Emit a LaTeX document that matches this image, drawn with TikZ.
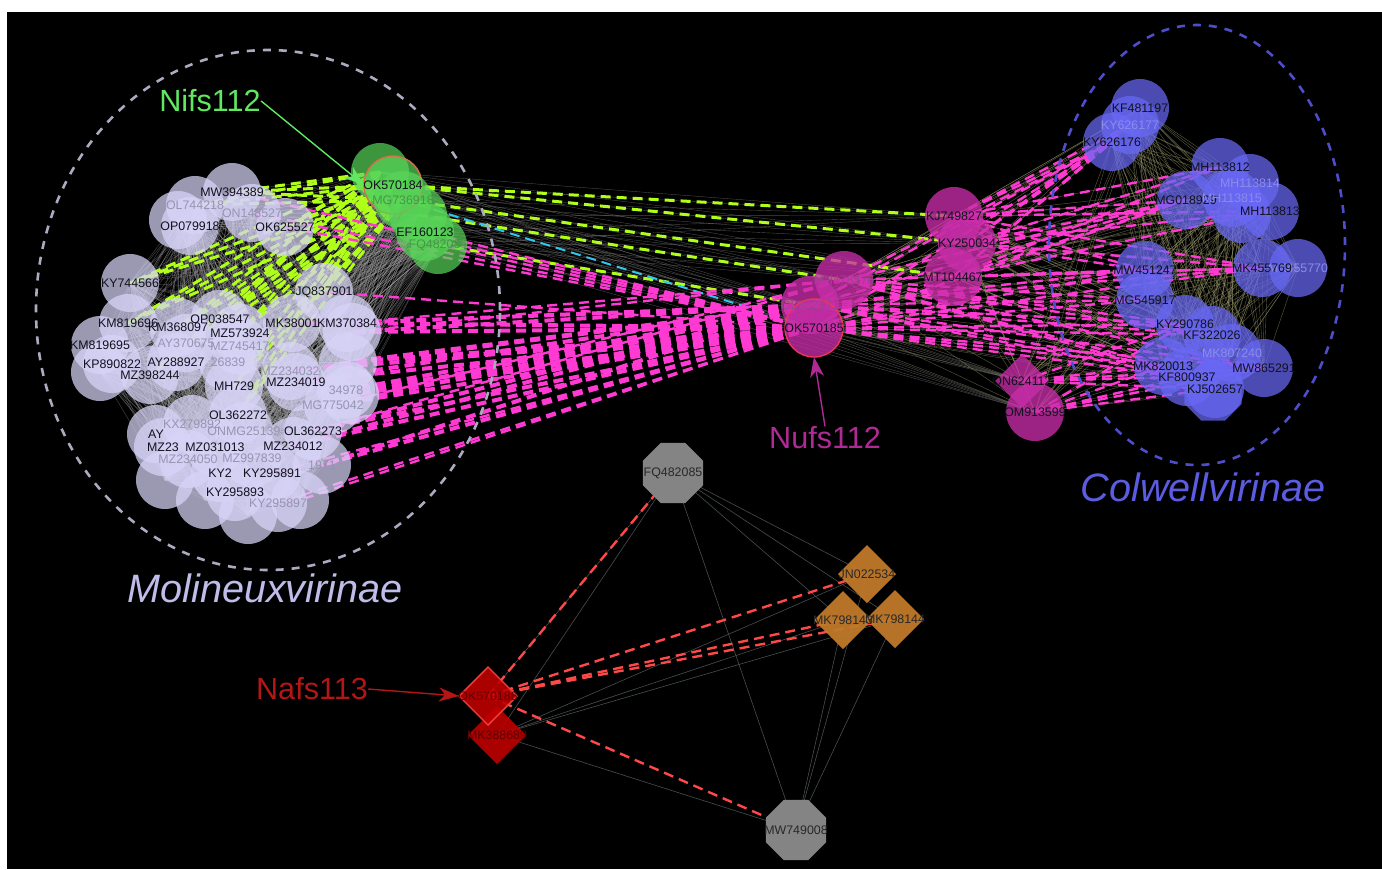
\documentclass[tikz,border=0pt]{standalone}
\usepackage{fontspec}
\setmainfont{Liberation Sans}
\usetikzlibrary{shapes.geometric,arrows.meta}
\pgfdeclarelayer{back}
\pgfdeclarelayer{edges}
\pgfdeclarelayer{labels}
\pgfsetlayers{back,edges,main,labels}

\definecolor{molfill}{RGB}{216,212,248}
\definecolor{molring}{RGB}{170,170,192}
\definecolor{moltext}{RGB}{192,188,234}
\definecolor{grnfill}{RGB}{88,214,88}
\definecolor{grntext}{RGB}{96,232,96}
\definecolor{hubor}{RGB}{214,112,72}
\definecolor{magfill}{RGB}{200,45,168}
\definecolor{magtext}{RGB}{176,42,150}
\definecolor{hubred}{RGB}{236,52,92}
\definecolor{bluefill}{RGB}{104,104,246}
\definecolor{colring}{RGB}{78,78,205}
\definecolor{bluetext}{RGB}{92,92,226}
\definecolor{ygdash}{RGB}{176,255,24}
\definecolor{pkdash}{RGB}{255,58,210}
\definecolor{cydash}{RGB}{48,200,236}
\definecolor{reddash}{RGB}{255,72,72}
\definecolor{meshgray}{RGB}{160,160,160}
\definecolor{meshyel}{RGB}{150,150,105}
\definecolor{meshdark}{RGB}{72,78,78}
\definecolor{octgray}{RGB}{132,132,132}
\definecolor{ambfill}{RGB}{192,122,42}
\definecolor{redfill}{RGB}{190,0,0}
\definecolor{redline}{RGB}{240,64,64}
\definecolor{nodetext}{RGB}{18,18,30}
\definecolor{fadetext}{RGB}{150,148,178}
\definecolor{fadegrn}{RGB}{72,150,72}
\definecolor{fademag}{RGB}{150,70,140}
\definecolor{fadeblu}{RGB}{140,140,235}
\definecolor{nafsred}{RGB}{178,22,22}
\definecolor{otext}{RGB}{40,40,40}
\definecolor{rtext}{RGB}{95,0,0}

\tikzset{
  vbase/.style={inner sep=0pt, outer sep=0pt, minimum size=29pt, draw=none},
  mol/.style={vbase, circle, fill=molfill, fill opacity=0.72},
  grn/.style={vbase, circle, fill=grnfill, fill opacity=0.7},
  mag/.style={vbase, circle, fill=magfill, fill opacity=0.78},
  magdia/.style={vbase, diamond, minimum size=27pt, fill=magfill, fill opacity=0.78},
  blu/.style={vbase, circle, fill=bluefill, fill opacity=0.72},
  bluoct/.style={vbase, regular polygon, regular polygon sides=8, minimum size=31pt, fill=bluefill, fill opacity=0.72},
  oct/.style={vbase, regular polygon, regular polygon sides=8, minimum size=32.5pt, fill=octgray},
  amb/.style={vbase, diamond, fill=ambfill, fill opacity=0.95},
  reddia/.style={vbase, diamond, fill=redfill, fill opacity=0.9},
  hub/.style={draw=#1, line width=0.7pt, draw opacity=1},
  tag/.style={inner sep=0pt, font=\fontsize{6.2}{6.2}\selectfont, text=nodetext},
  ftag/.style={tag, text=fadetext},
  gftag/.style={tag, text=fadegrn},
  mftag/.style={tag, text=fademag},
  bftag/.style={tag, text=fadeblu},
  otag/.style={tag, text=otext},
  rtag/.style={tag, text=rtext},
  ygd/.style={draw=ygdash, line width=1.5pt, dash pattern=on 5pt off 3pt},
  pkd/.style={draw=pkdash, line width=1.2pt, dash pattern=on 5pt off 3pt},
  pkw/.style={pkd, line width=2pt},
  cyd/.style={draw=cydash, line width=1pt, dash pattern=on 5pt off 3pt},
  rdd/.style={draw=reddash, line width=1.2pt, dash pattern=on 5pt off 3pt},
  mesh/.style={draw=meshgray, line width=0.2pt, draw opacity=0.45},
  ymesh/.style={draw=meshyel, line width=0.2pt, draw opacity=0.6},
  dmesh/.style={draw=meshdark, line width=0.3pt},
  ring/.style={line width=1.3pt, dash pattern=on 4pt off 4pt},
  big/.style={inner sep=0pt, font=\fontsize{15.3}{16}\selectfont},
  fam/.style={inner sep=0pt, font=\itshape\fontsize{19.8}{20}\selectfont},
  pointer/.style={line width=0.7pt, -{Stealth[length=10pt,width=7pt,inset=3pt]}},
}

% vertex: style, name, position, label style, label text
\newcommand\vtx[5]{\node[#1] (#2) at (#3) {};%
  \begin{pgfonlayer}{labels}\node[#4] (#2t) at (#3) {#5};\end{pgfonlayer}}

\begin{document}
\begin{tikzpicture}[x=0.5pt,y=-0.5pt]
\useasboundingbox (0,0) rectangle (1382,869);
\begin{pgfonlayer}{back}
  \fill[white] (0,0) rectangle (1382,869);
  \fill[black] (7,12) rectangle (1382,869);
\end{pgfonlayer}

% subfamily rings
\draw[ring, draw=molring] (268,310) ellipse [x radius=116pt, y radius=130pt];
\draw[ring, draw=colring] (1197,245) ellipse [x radius=74pt, y radius=110pt];

% ---- Molineuxvirinae ----
\vtx{mol}{L1}{178,220}{tag}{}
\vtx{mol}{L2}{195,205}{ftag}{OL744218}
\vtx{mol}{L3}{232,192}{tag}{MW394389}
\vtx{mol}{L4}{190,226}{tag}{OP079918}
\vtx{mol}{L5}{252,213}{ftag}{ON148527}
\vtx{mol}{L6}{285,227}{tag}{OK625527}
\vtx{mol}{L7}{130,283}{tag}{KY744566}
\vtx{mol}{L8}{324,292}{tag}{JQ837901}
\vtx{mol}{L9}{128,323}{tag}{KM819696}
\vtx{mol}{L10}{100,345}{tag}{KM819695}
\vtx{mol}{L11}{112,364}{tag}{KP890822}
\vtx{mol}{L12}{178,327}{tag}{KM368097}
\vtx{mol}{L13}{220,319}{tag}{OP038547}
\vtx{mol}{L14}{240,333}{tag}{MZ573924}
\vtx{mol}{L15}{292,323}{tag}{MK38001}
\vtx{mol}{L16}{347,323}{tag}{KM370384}
\vtx{mol}{L17}{186,343}{ftag}{AY370675}
\vtx{mol}{L18}{240,346}{ftag}{MZ745417}
\vtx{mol}{L19}{176,362}{tag}{AY288927}
\vtx{mol}{L20}{228,362}{ftag}{26839}
\vtx{mol}{L21}{150,375}{tag}{MZ398244}
\vtx{mol}{L22}{290,371}{ftag}{MZ234032}
\vtx{mol}{L23}{234,386}{tag}{MH729}
\vtx{mol}{L24}{296,382}{tag}{MZ234019}
\vtx{mol}{L25}{346,390}{ftag}{34978}
\vtx{mol}{L26}{333,405}{ftag}{MG775042}
\vtx{mol}{L27}{238,415}{tag}{OL362272}
\vtx{mol}{L28}{192,424}{ftag}{KX279892}
\vtx{mol}{L29}{156,434}{tag}{AY}
\vtx{mol}{L30}{244,431}{ftag}{ONMG25139}
\vtx{mol}{L31}{313,431}{tag}{OL362273}
\vtx{mol}{L32}{163,447}{tag}{MZ23}
\vtx{mol}{L33}{215,447}{tag}{MZ031013}
\vtx{mol}{L34}{293,446}{tag}{MZ234012}
\vtx{mol}{L35}{188,459}{ftag}{MZ234050}
\vtx{mol}{L36}{252,458}{ftag}{MZ997839}
\vtx{mol}{L37}{220,473}{tag}{KY2}
\vtx{mol}{L38}{272,473}{tag}{KY295891}
\vtx{mol}{L39}{322,465}{ftag}{1971}
\vtx{mol}{L40}{235,492}{tag}{KY295893}
\vtx{mol}{L41}{278,503}{ftag}{KY295897}
\vtx{mol}{L42}{352,332}{tag}{}
\vtx{mol}{L43}{348,362}{tag}{}
\vtx{mol}{L44}{350,395}{tag}{}
\vtx{mol}{L45}{165,480}{tag}{}
\vtx{mol}{L46}{248,515}{tag}{}
\vtx{mol}{L47}{300,500}{tag}{}
\vtx{mol}{L48}{205,500}{tag}{}
\vtx{mol}{L49}{100,372}{tag}{}

% ---- Nifs112 group ----
\vtx{grn}{G1}{380,172}{tag}{}
\vtx{grn}{G4}{418,215}{tag}{}
\vtx{grn}{G5}{425,232}{tag}{EF160123}
\vtx{grn}{G6}{438,245}{gftag}{FQ482084}
\vtx{grn,hub=hubor}{G2}{393,185}{tag}{OK570184}
\vtx{grn}{G3}{403,200}{gftag}{MG736918}

% ---- Nufs112 group ----
\vtx{mag}{P3}{844,280}{mftag}{MN478376}
\vtx{mag}{P2}{810,305}{mftag}{OL362271}
\vtx{mag,hub=hubred}{P1}{814,328}{tag}{OK570185}
\vtx{mag}{P4}{954,216}{tag}{KJ749827}
\vtx{mag}{P5}{967,243}{tag}{KY250034}
\vtx{mag}{P6}{953,277}{tag}{MT104467}
\vtx{magdia}{P7}{1022,381}{tag}{ON624112}
\vtx{mag}{P8}{1035,412}{tag}{OM913599}

% ---- Colwellvirinae ----
\vtx{blu}{B1}{1140,108}{tag}{KF481197}
\vtx{blu}{B2}{1130,125}{bftag}{KY626177}
\vtx{blu}{B3}{1112,142}{tag}{KY626176}
\vtx{blu}{B4}{1220,167}{tag}{MH113812}
\vtx{blu}{B5}{1250,183}{bftag}{MH113814}
\vtx{blu}{B6}{1186,200}{tag}{MG018929}
\vtx{blu}{B7}{1232,198}{bftag}{MH113815}
\vtx{blu}{B8}{1242,214}{tag}{}
\vtx{blu}{B9}{1270,211}{tag}{MH113813}
\vtx{blu}{B10}{1145,270}{tag}{MW451247}
\vtx{blu}{B12}{1298,268}{bftag}{MK455770}
\vtx{blu}{B11}{1262,268}{tag}{MK455769}
\vtx{blu}{B13}{1145,300}{tag}{MG545917}
\vtx{blu}{B14}{1185,324}{tag}{KY290786}
\vtx{blu}{B15}{1212,335}{tag}{KF322026}
\vtx{blu}{B16}{1232,353}{bftag}{MK807240}
\vtx{blu}{B17}{1163,366}{tag}{MK820013}
\vtx{bluoct}{B21}{1213,392}{tag}{}
\vtx{blu}{B18}{1187,377}{tag}{KF800937}
\vtx{blu}{B19}{1215,389}{tag}{KJ502657}
\vtx{blu}{B20}{1264,368}{tag}{MW865291}

% ---- Nafs113 group ----
\vtx{oct}{Q1}{673,473}{otag}{FQ482085}
\vtx{amb}{Q2}{867,574}{otag}{JN022534}
\vtx{amb}{Q3}{843,620}{otag}{MK798143}
\vtx{amb}{Q4}{895,619}{otag}{MK798144}
\vtx{reddia}{Q6}{497,735}{rtag}{MK388689}
\vtx{reddia,hub=redline}{Q5}{488,696}{rtag}{OK570186}
\vtx{oct}{Q7}{796,830}{otag}{MW749008}

% ---- connectors ----
\begin{pgfonlayer}{edges}
  % background similarity mesh
  \foreach \i in {1,...,49} {\foreach \j in {\i,...,49} {\draw[mesh] (L\i.center) -- (L\j.center);}}
  \foreach \i in {1,...,6} {\foreach \j in {1,...,49} {\draw[mesh] (G\i.center) -- (L\j.center);}}
  \foreach \i in {1,...,6} {\foreach \j in {1,...,8} {\draw[mesh] (G\i.center) -- (P\j.center);}}
  \foreach \i in {1,...,8} {\foreach \j in {1,...,21} {\draw[ymesh] (P\i.center) -- (B\j.center);}}
  \foreach \i in {1,...,21} {\foreach \j in {\i,...,21} {\draw[ymesh] (B\i.center) -- (B\j.center);}}
  \foreach \i in {1,...,8} {\foreach \j in {\i,...,8} {\draw[ymesh] (P\i.center) -- (P\j.center);}}

  % Nifs112 links
  \foreach \g in {G1,G2,G3} {\foreach \l in {L2,L3,L6,L7,L9,L12,L13,L14,L21,L23,L27,L8,L15} {\draw[ygd] (\g.center) -- (\l.center);}}
  \draw[ygd] (G2.center) -- (P4.center);
  \draw[ygd] (G2.center) -- (P5.center);
  \draw[ygd] (G3.center) -- (P6.center);
  \draw[ygd] (G4.center) -- (P3.center);
  \draw[ygd] (G6.center) -- (P2.center);
  \draw[cyd] (G3.center) -- (P1.center);

  % Nufs112 links
  \foreach \p in {P1,P2} {\foreach \l in {L16,L42,L43,L44,L25,L26,L31,L34,L39,L24,L22} {\draw[pkw] (\p.center) -- (\l.center);}}
  \foreach \l in {L6,L5,L3,L8,L15,L38,L41,L47,G5,G6} {\draw[pkd] (P1.center) -- (\l.center);}
  \foreach \l in {L16,L42,L26,L31} {\draw[pkd] (P3.center) -- (\l.center);}
  \foreach \p in {P1,P2,P3} {\foreach \b in {B3,B6,B10,B13,B14,B15,B17,B18,B20,B11} {\draw[pkd] (\p.center) -- (\b.center);}}
  \foreach \p in {P4,P5,P6} {\foreach \b in {B3,B2,B6,B9,B4,B11,B10} {\draw[pkd] (\p.center) -- (\b.center);}}
  \foreach \p in {P7,P8} {\foreach \b in {B17,B18,B19,B14,B20} {\draw[pkd] (\p.center) -- (\b.center);}}

  % Nafs113 links
  \foreach \a/\b in {Q1/Q5,Q1/Q6,Q1/Q2,Q1/Q3,Q1/Q4,Q1/Q7,Q6/Q2,Q6/Q3,Q6/Q4,Q6/Q7,Q7/Q2,Q7/Q3,Q7/Q4} {\draw[dmesh] (\a.center) -- (\b.center);}
  \foreach \b in {Q1,Q2,Q3,Q4,Q7} {\draw[rdd] (Q5.center) -- (\b.center);}
\end{pgfonlayer}

% ---- annotations ----
\begin{pgfonlayer}{labels}
  \node[big, text=grntext] (nifs) at (210,101) {Nifs112};
  \node[big, text=magtext] (nufs) at (825,438) {Nufs112};
  \node[big, text=nafsred] (nafs) at (312,689) {Nafs113};
  \node[fam, text=moltext] (molin) at (265,588) {Molineuxvirinae};
  \node[fam, text=bluetext] (colw) at (1203,487) {Colwellvirinae};
  \draw[pointer, draw=grntext] (nifs.east) -- (G2.west);
  \draw[pointer, draw=magtext] (nufs.north) -- (P1.south);
  \draw[pointer, draw=nafsred] (nafs.east) -- (Q5.west);
\end{pgfonlayer}
\end{tikzpicture}
\end{document}
